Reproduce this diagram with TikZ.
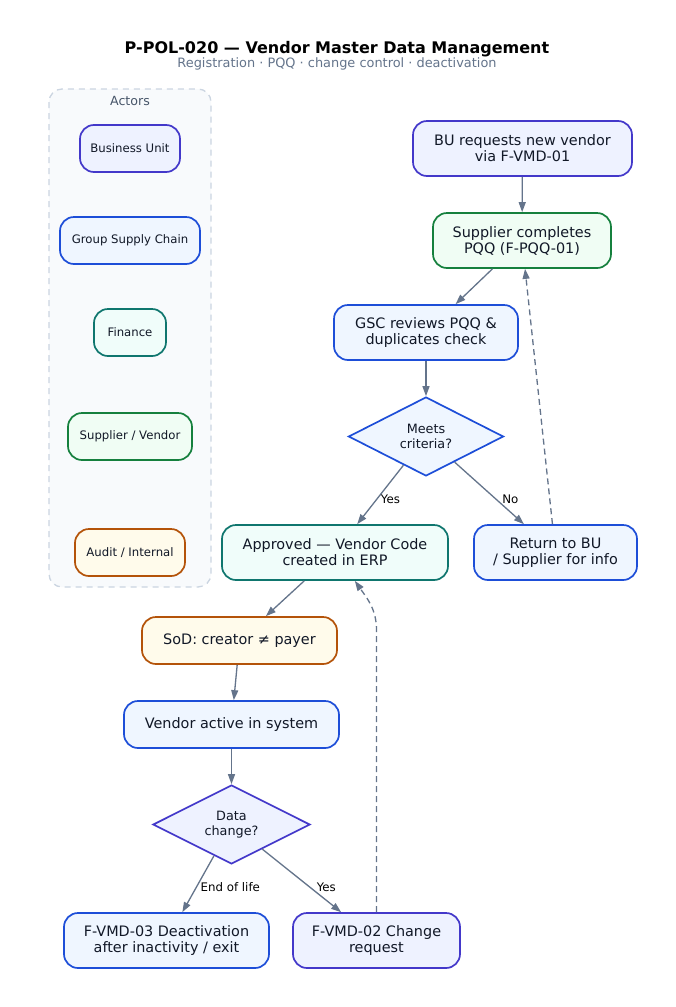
\documentclass[tikz,border=0pt]{standalone}
\usepackage{fontspec}
\setmainfont{DejaVu Sans}
\usepackage{tikz}
\usetikzlibrary{arrows.meta,shapes.geometric}

\definecolor{inkdark}{HTML}{111827}
\definecolor{slate}{HTML}{64748B}
\definecolor{indigoline}{HTML}{4338CA}
\definecolor{indigofill}{HTML}{EEF2FF}
\definecolor{blueline}{HTML}{1D4ED8}
\definecolor{bluefill}{HTML}{EFF6FF}
\definecolor{tealline}{HTML}{0F766E}
\definecolor{tealfill}{HTML}{F0FDFA}
\definecolor{greenline}{HTML}{15803D}
\definecolor{greenfill}{HTML}{F0FDF4}
\definecolor{amberline}{HTML}{B45309}
\definecolor{amberfill}{HTML}{FFFBEB}
\definecolor{laneline}{HTML}{CBD5E1}
\definecolor{lanefill}{HTML}{F8FAFC}
\definecolor{lanetext}{HTML}{475569}

\begin{document}
\begin{tikzpicture}[x=1pt, y=-1pt,
  every node/.style={text=inkdark, align=center},
  box/.style={draw, rounded corners=14pt, line width=1.7pt, inner sep=0pt,
    minimum height=55pt, font=\fontsize{14.4}{16}\selectfont},
  actor/.style={draw, rounded corners=14pt, line width=1.7pt, inner sep=0pt,
    minimum height=47pt, font=\fontsize{11.7}{14}\selectfont},
  decision/.style={draw, diamond, shape aspect=2, line width=1.7pt, inner sep=0pt,
    minimum width=155pt, minimum height=79pt, font=\fontsize{12.8}{15}\selectfont},
  bu/.style={draw=indigoline, fill=indigofill},
  gsc/.style={draw=blueline, fill=bluefill},
  fin/.style={draw=tealline, fill=tealfill},
  sup/.style={draw=greenline, fill=greenfill},
  aud/.style={draw=amberline, fill=amberfill},
  flow/.style={draw=slate, line width=1.3pt, -{Triangle[length=10pt,width=7pt]}},
  back/.style={flow, dash pattern=on 6pt off 4pt},
  lbl/.style={font=\fontsize{11.8}{14}\selectfont, text=black}
]
\fill[white] (0,0) rectangle (676,1007);
\useasboundingbox (0,0) rectangle (676,1007);

% title
\node[text=black] (title) at (337,49) {\fontsize{16}{19}\selectfont\bfseries P-POL-020 — Vendor Master Data Management};
\node[text=slate] (subtitle) at (337,64) {\fontsize{12.9}{15}\selectfont Registration · PQQ · change control · deactivation};

% actors lane
\draw[draw=laneline, fill=lanefill, line width=1.3pt, dash pattern=on 6pt off 5pt, rounded corners=13pt]
  (49,89) rectangle (211,587);
\node[text=lanetext] (actors) at (130,101) {\fontsize{12.6}{15}\selectfont Actors};
\node[actor, bu, minimum width=100pt] (aBU) at (130,148.5) {Business Unit};
\node[actor, gsc, minimum width=140pt] (aGSC) at (130,240.5) {Group Supply Chain};
\node[actor, fin, minimum width=72pt] (aFin) at (130,332.5) {Finance};
\node[actor, sup, minimum width=124pt] (aSup) at (130,436.5) {Supplier / Vendor};
\node[actor, aud, minimum width=110pt] (aAud) at (130,552.5) {Audit / Internal};

% registration
\node[box, bu, minimum width=219pt] (request) at (522.5,148.5) {BU requests new vendor\\via F-VMD-01};
\node[box, sup, minimum width=178pt] (pqq) at (522,240.5) {Supplier completes\\PQQ (F-PQQ-01)};
\node[box, gsc, minimum width=184pt] (review) at (426,332.5) {GSC reviews PQQ \&\\duplicates check};
\node[decision, gsc] (meets) at (426,436.5) {Meets\\criteria?};
\node[box, fin, minimum width=226pt] (approved) at (335,552.5) {Approved — Vendor Code\\created in ERP};
\node[box, gsc, minimum width=163pt] (return) at (555.5,552.5) {Return to BU\\/ Supplier for info};

% control and lifecycle
\node[actor, aud, minimum width=195pt, font=\fontsize{14.4}{16}\selectfont] (sod) at (239.5,640.5) {SoD: creator ≠ payer};
\node[actor, gsc, minimum width=215pt, font=\fontsize{14.4}{16}\selectfont] (active) at (231.5,724.5) {Vendor active in system};
\node[decision, bu, minimum width=157pt] (change) at (231.5,824.5) {Data\\change?};
\node[box, gsc, minimum width=205pt] (deact) at (166.5,940.5) {F-VMD-03 Deactivation\\after inactivity / exit};
\node[box, bu, minimum width=167pt] (changereq) at (376.5,940.5) {F-VMD-02 Change\\request};

% connectors
\draw[flow] (request) -- (pqq);
\draw[flow] (pqq) -- (review);
\draw[flow] (review) -- (meets);
\draw[flow] (meets) -- (approved);
\draw[flow] (meets) -- (return);
\draw[back] (return) -- (pqq);
\draw[flow] (approved) -- (sod);
\draw[flow] (sod) -- (active);
\draw[flow] (active) -- (change);
\draw[flow] (change) -- (deact);
\draw[flow] (change) -- (changereq);
\coordinate (bend) at (376.5,630);
\draw[back] (changereq.north) -- (bend) to[out=90, in=-55] (approved);

% edge labels
\node[lbl] (yes1) at (390.5,499) {Yes};
\node[lbl] (no1) at (510.3,499) {No};
\node[lbl] (eol) at (230.3,887.5) {End of life};
\node[lbl] (yes2) at (326.3,887.5) {Yes};
\end{tikzpicture}
\end{document}
